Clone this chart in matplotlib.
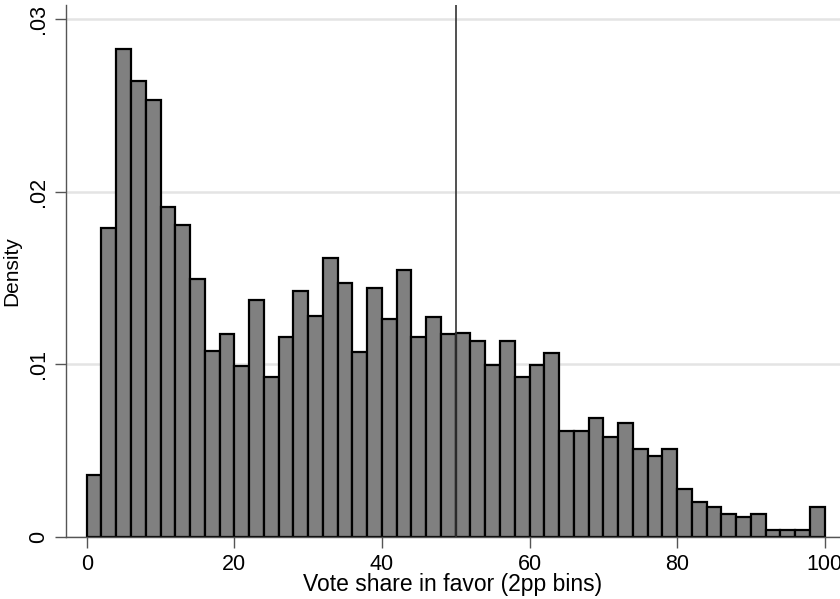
import numpy as np
import matplotlib
matplotlib.use("Agg")
import matplotlib.pyplot as plt

plt.rcParams['font.family'] = ['Liberation Sans', 'DejaVu Sans']

# --- data: 2pp bins from 0 to 100, density per bin ---
bin_edges = np.arange(0, 102, 2)
density = [0.00359, 0.01789, 0.02827, 0.02642, 0.02534, 0.01910, 0.01808, 0.01496,
           0.01078, 0.01174, 0.00993, 0.01373, 0.00927, 0.01157, 0.01427, 0.01279,
           0.01616, 0.01470, 0.01074, 0.01441, 0.01265, 0.01549, 0.01157, 0.01276,
           0.01174, 0.01184, 0.01134, 0.00995, 0.01134, 0.00927, 0.00995, 0.01068,
           0.00616, 0.00616, 0.00688, 0.00581, 0.00659, 0.00510, 0.00471, 0.00510,
           0.00278, 0.00205, 0.00172, 0.00133, 0.00118, 0.00133, 0.00041, 0.00041,
           0.00041, 0.00172]
cutoff = 50
yticks = [0, 0.01, 0.02, 0.03]
ytick_labels = ['0', '.01', '.02', '.03']
xticks = [0, 20, 40, 60, 80, 100]

fig = plt.figure(figsize=(8.4, 5.99), dpi=100)
ax = fig.add_axes([0.0782, 0.1035, 0.9218, 0.888])

ax.bar(bin_edges[:-1], density, width=2, align='edge', color='#808080',
       edgecolor='black', linewidth=1.6, zorder=2)
ax.axvline(cutoff, color='#333333', linewidth=1.2, zorder=3)

ax.set_xlim(-2.85, 102.07)
ax.set_ylim(0, 0.03082)
ax.set_yticks(yticks)
ax.set_yticklabels(ytick_labels, rotation=90, va='center')
ax.set_xticks(xticks)
ax.yaxis.grid(True, color='#e4e4e4', linewidth=1.8, zorder=0)
ax.set_axisbelow(True)

for s in ['top', 'right']:
    ax.spines[s].set_visible(False)
for s in ['left', 'bottom']:
    ax.spines[s].set_color('#555555')
    ax.spines[s].set_linewidth(1.0)
ax.tick_params(axis='both', colors='#555555', length=8, width=1.0,
               labelsize=15.5, labelcolor='black', pad=4)

ax.set_xlabel('Vote share in favor (2pp bins)', fontsize=16.5, labelpad=-1)
ax.set_ylabel('Density', fontsize=15, labelpad=5)

fig.savefig('out.png', dpi=100)
